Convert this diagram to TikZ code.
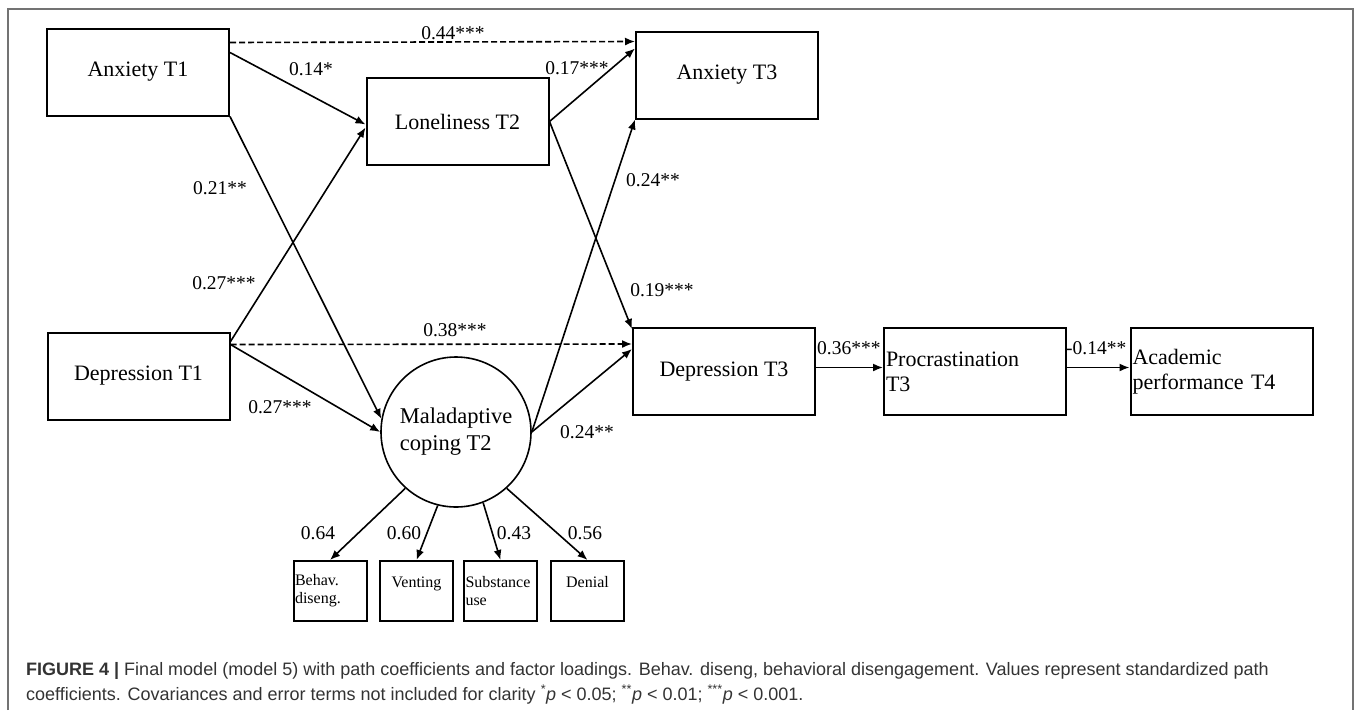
\documentclass[tikz,border=0pt]{standalone}
\usepackage{fontspec}
\setmainfont{Liberation Serif}
\newfontfamily\capfont{Liberation Sans}
\usetikzlibrary{arrows.meta}
\definecolor{framegray}{gray}{0.45}
\definecolor{captext}{gray}{0.2}

\begin{document}
\begin{tikzpicture}[x=1pt,y=-1pt,
    observed/.style ={rectangle, draw, line width=2pt, minimum width=182pt, minimum height=87pt, inner sep=2pt, font=\fontsize{22}{25}\selectfont},
    latent/.style ={circle, draw, line width=1.6pt, minimum size=150pt, inner sep=0pt, align=left, font=\fontsize{22.5}{27}\selectfont},
    indicator/.style ={rectangle, draw, line width=2pt, text width=70pt, minimum height=60pt, inner sep=1.5pt, font=\fontsize{16}{18}\selectfont},
    coef/.style ={inner sep=0pt, font=\fontsize{19.5}{22}\selectfont},
    effect/.style ={line width=1.6pt, -{Latex[length=10pt,width=8pt]}},
    direct/.style ={effect, dash pattern=on 6pt off 3pt}]
   \useasboundingbox (0,0) rectangle (1358,710);
   \draw[framegray, line width=1.4pt] (8,710) -- (8,9) -- (1353,9) -- (1353,710);

   \node[observed] (anx1) at (138,72) {Anxiety T1};
   \node[observed] (lon2) at (457.5,121.5) {Loneliness T2};
   \node[observed] (anx3) at (727,75) {Anxiety T3};
   \node[observed] (dep1) at (138.5,376) {Depression T1};
   \node[latent] (mal2) at (456,432) {Maladaptive\\coping T2};
   \node[observed] (dep3) at (724,371.5) {Depression T3};
   \node[observed, text width=178pt, align=left] (pro3) at (975,371.5) {Procrastination\\T3};
   \node[observed, text width=178pt, align=left] (aca4) at (1221.5,371.5) {Academic\\performance T4};

   \node[indicator, align=left] (beh) at (330,591) {Behav.\\diseng.};
   \node[indicator, align=center] (ven) at (416.5,591) {Venting\\\mbox{}};
   \node[indicator, align=left] (sub) at (500.5,591) {Substance\\use};
   \node[indicator, align=center] (den) at (587.5,591) {Denial\\\mbox{}};

   \draw[direct] ([yshift=-15pt]anx1.north east) to ([yshift=-11pt]anx3.north west);
   \draw[direct] ([yshift=-13pt]dep1.north east) to ([yshift=-17pt]dep3.north west);
   \draw[effect] ([yshift=-25pt]anx1.north east) to ([yshift=-3pt]lon2.west);
   \draw[effect] (anx1.south east) to (mal2.170);
   \draw[effect] ([yshift=-10pt]dep1.north east) to ([yshift=-6pt]lon2.west);
   \draw[effect] ([yshift=-13pt]dep1.north east) to (mal2.west);
   \draw[effect] (lon2.east) to ([yshift=-18pt]anx3.north west);
   \draw[effect] (lon2.east) to ([yshift=-2pt]dep3.north west);
   \draw[effect] (mal2.east) to (anx3.south west);
   \draw[effect] (mal2.east) to ([yshift=-22pt]dep3.north west);
   \draw[effect] ([yshift=4pt]dep3.east) to ([yshift=4pt]pro3.west);
   \draw[effect] ([yshift=4pt]pro3.east) to ([yshift=4pt]aca4.west);
   \foreach \ang/\ind in {228/beh,256/ven,291/sub,312/den}
      \draw[effect] (mal2.\ang) to (\ind.north);

   \node[coef] (c44) at (453,33) {0.44***};
   \node[coef] (c14) at (311,69) {0.14*};
   \node[coef] (c17) at (577,68) {0.17***};
   \node[coef] (c21) at (220,188) {0.21**};
   \node[coef] (c27a) at (224,283) {0.27***};
   \node[coef] (c24a) at (653,180) {0.24**};
   \node[coef] (c19) at (662,290) {0.19***};
   \node[coef] (c38) at (455,330) {0.38***};
   \node[coef] (c27b) at (280,407) {0.27***};
   \node[coef] (c24b) at (587,432) {0.24**};
   \node[coef, anchor=west] (c36) at (817,348) {0.36***};
   \node[coef, anchor=west] (c14b) at (1066,348) {-0.14**};
   \node[coef] (l64) at (318,533) {0.64};
   \node[coef] (l60) at (404,533) {0.60};
   \node[coef] (l43) at (514,533) {0.43};
   \node[coef] (l56) at (585,533) {0.56};

   \node[anchor=base west, align=left, inner sep=0pt, text=captext, font=\capfont\fontsize{18}{25}\selectfont] (caption) at (26,700)
      {\textbf{FIGURE 4 |} Final model (model 5) with path coefficients and factor loadings. Behav. diseng, behavioral disengagement. Values represent standardized path\\
       coefficients. Covariances and error terms not included for clarity \textsuperscript{*}\textit{p} < 0.05; \textsuperscript{**}\textit{p} < 0.01; \textsuperscript{***}\textit{p} < 0.001.};
 \end{tikzpicture}
\end{document}
